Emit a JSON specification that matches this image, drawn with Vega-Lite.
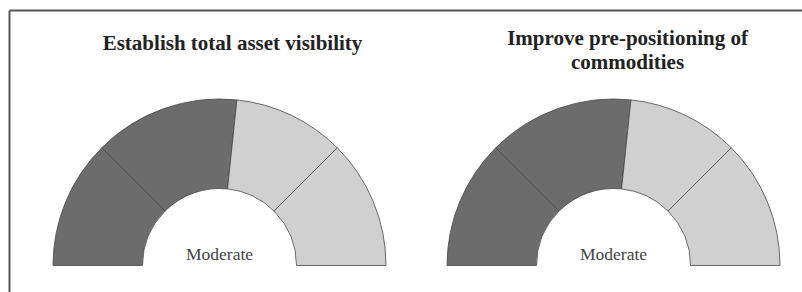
{
  "$schema": "https://vega.github.io/schema/vega-lite/v6.json",
  "width": 793,
  "height": 282,
  "autosize": {"type": "none"},
  "padding": {"left": 9, "top": 10, "right": 0, "bottom": 0},
  "background": "white",
  "config": {"view": {"stroke": null}},
  "datasets": {
    "segments": [
      {"gauge": "asset", "seg": 1, "value": 45, "tone": "dark"},
      {"gauge": "asset", "seg": 2, "value": 51, "tone": "dark"},
      {"gauge": "asset", "seg": 3, "value": 39, "tone": "light"},
      {"gauge": "asset", "seg": 4, "value": 45, "tone": "light"},
      {"gauge": "prepos", "seg": 1, "value": 45, "tone": "dark"},
      {"gauge": "prepos", "seg": 2, "value": 51, "tone": "dark"},
      {"gauge": "prepos", "seg": 3, "value": 39, "tone": "light"},
      {"gauge": "prepos", "seg": 4, "value": 45, "tone": "light"}
    ],
    "gauges": [
      {"gauge": "asset", "title": "Establish total asset visibility", "rating": "Moderate"},
      {"gauge": "prepos", "title": "Improve pre-positioning of\ncommodities", "rating": "Moderate"}
    ]
  },
  "layer": [
    {
      "data": {"name": "segments"},
      "transform": [
        {"stack": "value", "groupby": ["gauge"], "sort": [{"field": "seg"}], "as": ["start", "end"]}
      ],
      "mark": {"type": "arc", "radius": 166.5, "radius2": 77, "stroke": "#474747", "strokeWidth": 0.8},
      "encoding": {
        "x": {
          "field": "gauge", "type": "nominal",
          "scale": {"type": "point", "domain": ["asset", "prepos"], "padding": 0.5063, "align": 0.5276},
          "axis": {"orient": "top", "labels": false, "ticks": false, "title": null, "grid": false, "domain": true, "domainColor": "#555555", "domainWidth": 2}
        },
        "y": {
          "datum": 9.4, "type": "quantitative",
          "scale": {"domain": [0, 100], "nice": false, "zero": false},
          "axis": {"orient": "left", "labels": false, "ticks": false, "title": null, "grid": false, "domain": true, "domainColor": "#555555", "domainWidth": 2}
        },
        "theta": {"field": "start", "type": "quantitative", "scale": {"domain": [0, 180], "range": [-1.5708, 1.5708]}},
        "theta2": {"field": "end"},
        "color": {"field": "tone", "type": "nominal", "scale": {"domain": ["dark", "light"], "range": ["#6c6c6c", "#d0d0d0"]}, "legend": null}
      }
    },
    {
      "data": {"name": "gauges"},
      "mark": {"type": "text", "font": "Liberation Serif", "fontSize": 17.5, "color": "#444444", "align": "center", "baseline": "alphabetic"},
      "encoding": {
        "x": {"field": "gauge", "type": "nominal"},
        "y": {"datum": 11.52, "type": "quantitative"},
        "text": {"field": "rating"}
      }
    },
    {
      "data": {"name": "gauges"},
      "transform": [{"filter": "datum.gauge === 'asset'"}],
      "mark": {"type": "text", "font": "Liberation Serif", "fontWeight": "bold", "fontSize": 21, "color": "#222222", "align": "center", "baseline": "alphabetic", "dx": 13},
      "encoding": {
        "x": {"field": "gauge", "type": "nominal"},
        "y": {"datum": 85.82, "type": "quantitative"},
        "text": {"field": "title"}
      }
    },
    {
      "data": {"name": "gauges"},
      "transform": [{"filter": "datum.gauge === 'prepos'"}],
      "mark": {"type": "text", "font": "Liberation Serif", "fontWeight": "bold", "fontSize": 21, "color": "#222222", "align": "center", "baseline": "alphabetic", "dx": 14, "lineBreak": "\n", "lineHeight": 24},
      "encoding": {
        "x": {"field": "gauge", "type": "nominal"},
        "y": {"datum": 87.59, "type": "quantitative"},
        "text": {"field": "title"}
      }
    }
  ]
}
